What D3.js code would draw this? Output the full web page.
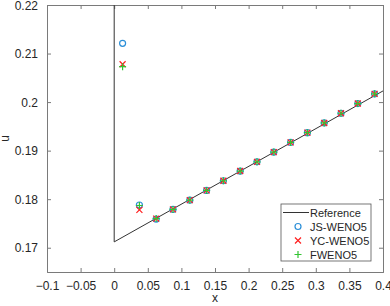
<!DOCTYPE html>
<html>
<head>
<meta charset="utf-8">
<script src="https://cdn.jsdelivr.net/npm/d3@7"></script>
<style>
  html, body { margin: 0; padding: 0; background: #fff; overflow: hidden; }
  svg { display: block; }
  text { font-family: "Liberation Sans", Arial, sans-serif; fill: #262626; }
</style>
</head>
<body>
<svg width="390" height="306"></svg>
<script>
  // reference solution (polyline)
  const refX = [0, 0, 0.4];
  const refU = [0.23, 0.1712, 0.2023];

  // cell centres
  const cellX = [0.0125, 0.0375, 0.0625, 0.0875, 0.1125, 0.1375, 0.1625, 0.1875,
                 0.2125, 0.2375, 0.2625, 0.2875, 0.3125, 0.3375, 0.3625, 0.3875];
  const jsWeno = [0.2121, 0.1788, 0.1759, 0.1779, 0.1798, 0.1818, 0.1838, 0.1858,
                  0.1877, 0.1897, 0.1917, 0.1937, 0.1957, 0.1977, 0.1997, 0.2017];
  const ycWeno = [0.2078, 0.1778, 0.1760, 0.1779, 0.1798, 0.1818, 0.1838, 0.1858,
                  0.1877, 0.1897, 0.1917, 0.1937, 0.1957, 0.1977, 0.1997, 0.2017];
  const fWeno  = [0.2073, 0.1787, 0.1760, 0.1779, 0.1798, 0.1818, 0.1838, 0.1858,
                  0.1877, 0.1897, 0.1917, 0.1937, 0.1957, 0.1977, 0.1997, 0.2017];

  const xTicks = [-0.1, -0.05, 0, 0.05, 0.1, 0.15, 0.2, 0.25, 0.3, 0.35, 0.4];
  const yTicks = [0.17, 0.18, 0.19, 0.2, 0.21, 0.22];
  const legendLabels = ['Reference', 'JS-WENO5', 'YC-WENO5', 'FWENO5'];

  const svg = d3.select('svg');
  const margin = { left: 47, right: 7, top: 5, bottom: 34 };
  const width = +svg.attr('width');
  const height = +svg.attr('height');
  const innerWidth = width - margin.left - margin.right;
  const innerHeight = height - margin.top - margin.bottom;

  const xScale = d3.scaleLinear().domain([-0.1, 0.4]).range([0, innerWidth]);
  const yScale = d3.scaleLinear().domain([0.165, 0.22]).range([innerHeight, 0]);

  const g = svg.append('g')
    .attr('transform', `translate(${margin.left},${margin.top})`);

  const fmt = d => d3.format('')(+d.toFixed(3));
  const axisColor = '#7a7a7a';

  // bottom / top / left / right axes with inward ticks
  const xAxisB = g.append('g').attr('transform', `translate(0,${innerHeight})`)
    .call(d3.axisBottom(xScale).tickValues(xTicks).tickSize(-4).tickPadding(9).tickFormat(fmt));
  const xAxisT = g.append('g')
    .call(d3.axisTop(xScale).tickValues(xTicks).tickSize(-4));
  const yAxisL = g.append('g')
    .call(d3.axisLeft(yScale).tickValues(yTicks).tickSize(-4).tickPadding(9).tickFormat(fmt));
  const yAxisR = g.append('g').attr('transform', `translate(${innerWidth},0)`)
    .call(d3.axisRight(yScale).tickValues(yTicks).tickSize(-4));

  xAxisT.selectAll('.tick text').remove();
  yAxisR.selectAll('.tick text').remove();

  [xAxisB, xAxisT, yAxisL, yAxisR].forEach(a => {
    a.attr('font-size', 12).attr('font-family', null);
    a.selectAll('.domain').attr('stroke', axisColor);
    a.selectAll('.tick line').attr('stroke', axisColor);
    a.selectAll('.tick text').style('font-size', '12px').attr('fill', '#262626');
  });
  xAxisB.selectAll('.tick text').attr('dy', null).attr('y', 17.5);
  yAxisL.selectAll('.tick text').attr('dy', null).attr('y', 4);

  // clip
  g.append('clipPath').attr('id', 'clip')
    .append('rect').attr('width', innerWidth).attr('height', innerHeight);

  const plot = g.append('g').attr('clip-path', 'url(#clip)');

  const line = d3.line().x(d => xScale(d[0])).y(d => yScale(d[1]));
  plot.append('path')
    .attr('d', line(refX.map((x, i) => [x, refU[i]])))
    .attr('fill', 'none')
    .attr('stroke', '#333')
    .attr('stroke-width', 1);

  const blue = '#2b8fd8', red = '#ff2020', green = '#33c433';
  const ms = 3;

  const drawMarker = (sel, type, cx, cy) => {
    if (type === 'o') {
      sel.append('circle').attr('cx', cx).attr('cy', cy).attr('r', ms)
        .attr('fill', 'none').attr('stroke', blue).attr('stroke-width', 1.2);
    } else if (type === 'x') {
      sel.append('path')
        .attr('d', `M${cx - ms},${cy - ms}L${cx + ms},${cy + ms}M${cx - ms},${cy + ms}L${cx + ms},${cy - ms}`)
        .attr('stroke', red).attr('stroke-width', 1.2).attr('fill', 'none');
    } else {
      sel.append('path')
        .attr('d', `M${cx - ms - 0.5},${cy}L${cx + ms + 0.5},${cy}M${cx},${cy - ms - 0.5}L${cx},${cy + ms + 0.5}`)
        .attr('stroke', green).attr('stroke-width', 1.2).attr('fill', 'none');
    }
  };

  const series = [[jsWeno, 'o'], [ycWeno, 'x'], [fWeno, '+']];
  series.forEach(([vals, type]) => {
    const sg = plot.append('g');
    cellX.forEach((x, i) => drawMarker(sg, type, xScale(x), yScale(vals[i])));
  });

  // axis labels
  g.append('text')
    .attr('x', innerWidth / 2).attr('y', innerHeight + 30)
    .attr('text-anchor', 'middle').style('font-size', '12px').text('x');
  g.append('text')
    .attr('transform', `translate(-38,${innerHeight / 2}) rotate(-90)`)
    .attr('text-anchor', 'middle').style('font-size', '12px').text('u');

  // legend
  const lg = svg.append('g').attr('transform', 'translate(281,204)');
  lg.append('rect').attr('width', 90).attr('height', 57)
    .attr('fill', '#fff').attr('stroke', '#555').attr('stroke-width', 0.8);
  legendLabels.forEach((lab, i) => {
    const yy = 8.5 + i * 14;
    if (i === 0) {
      lg.append('line').attr('x1', 2).attr('x2', 28).attr('y1', yy).attr('y2', yy)
        .attr('stroke', '#333');
    } else {
      drawMarker(lg, series[i - 1][1], 17, yy);
    }
    lg.append('text').attr('x', 29).attr('y', yy + 4)
      .style('font-size', '11px').text(lab);
  });
</script>
</body>
</html>
